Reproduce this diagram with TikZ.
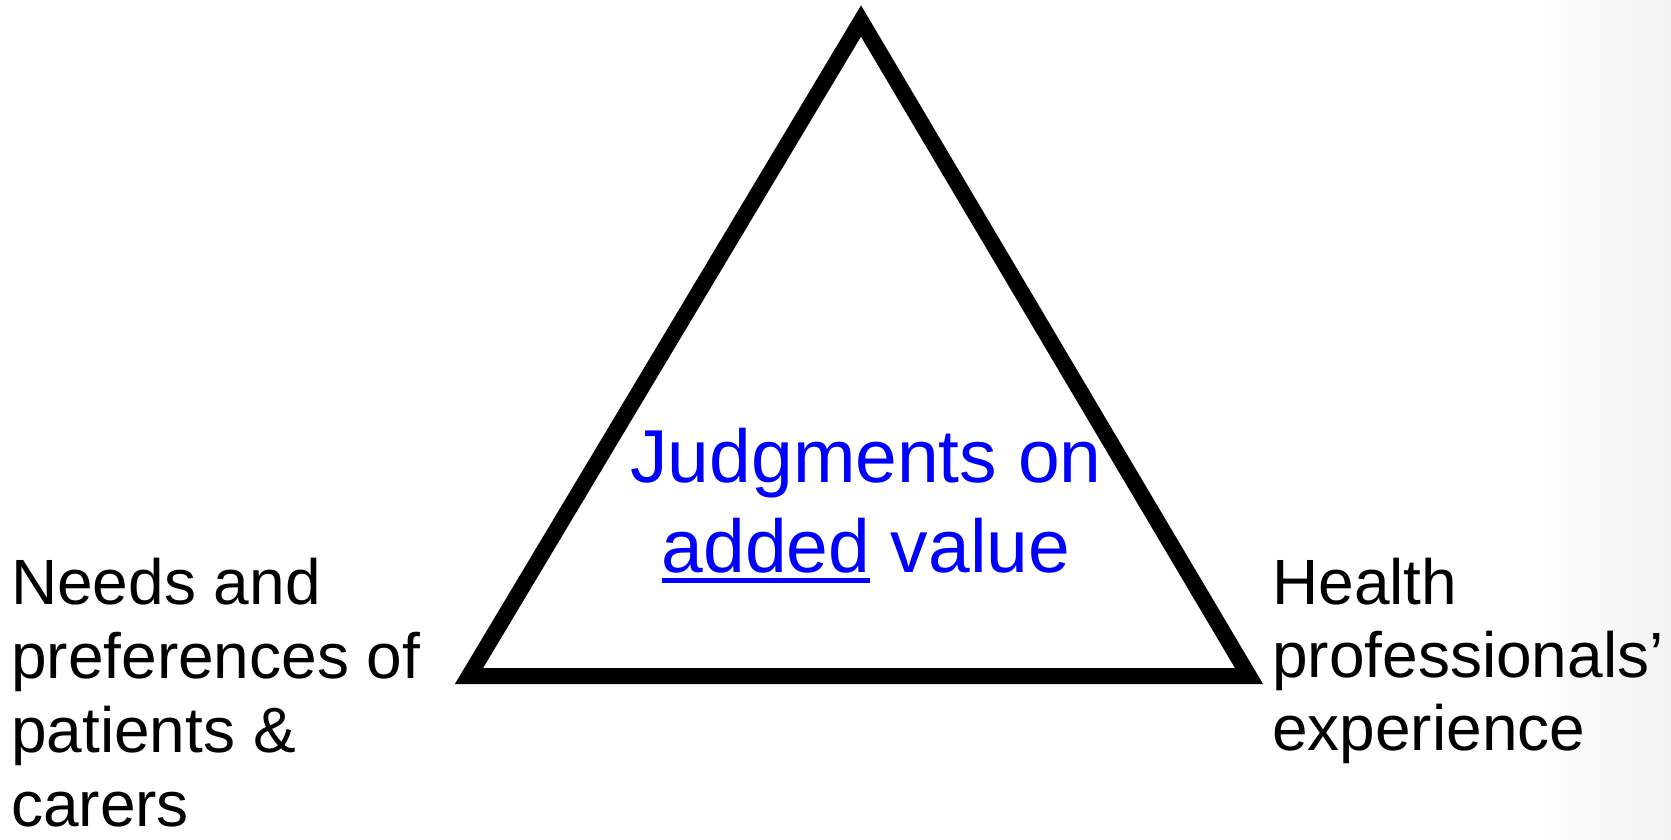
\documentclass[tikz,border=0pt]{standalone}
\usepackage{fontspec}
\setmainfont{Liberation Sans}
\definecolor{pptblue}{RGB}{0,0,255}
\newcommand\myul[1]{\setbox0\hbox{#1}\rlap{\rule[-11pt]{\wd0}{5pt}}\box0\relax}
\tikzset{
  sidelabel/.style={anchor=base west, inner sep=0pt, font=\fontsize{64pt}{74pt}\selectfont, text=black},
  centerlabel/.style={anchor=base, inner sep=0pt, font=\fontsize{75pt}{90pt}\selectfont, text=pptblue},
  triline/.style={draw=black, line width=16pt, line join=miter, miter limit=10}
}
\begin{document}
\begin{tikzpicture}[x=1pt,y=-1pt]
\useasboundingbox (0,0) rectangle (1671,839);
\shade[left color=white, right color=black!5, draw=none] (1530,0) rectangle (1671,839);
\coordinate (apex) at (861,21);
\coordinate (br) at (1249,676);
\coordinate (bl) at (469,676);
\draw[triline] (apex) -- (br) -- (bl) -- cycle;
\node[centerlabel] (center) at (866,482) {\vtop{\baselineskip=90pt\halign{\hfil#\hfil\cr Judgments on\cr \myul{added} value\cr}}};
\node[sidelabel] (left) at (11,604) {\vtop{\baselineskip=74pt\hbox{Needs and}\hbox{preferences of}\hbox{patients \&}\hbox{carers}}};
\node[sidelabel] (right) at (1272,604) {\vtop{\baselineskip=73pt\hbox{Health}\hbox{professionals’}\hbox{experience}}};
\end{tikzpicture}
\end{document}
